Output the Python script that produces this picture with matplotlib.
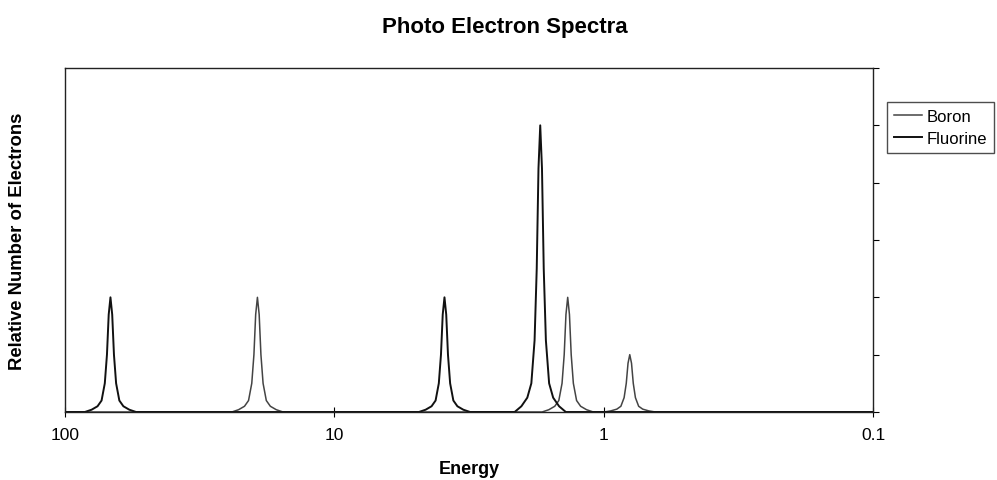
import numpy as np
import matplotlib.pyplot as plt

plt.rcParams['font.family'] = ['Liberation Sans', 'DejaVu Sans']

# peak positions (energy) and heights (relative number of electrons)
boron_energy = [19.3, 1.36, 0.80]
boron_count = [2, 2, 1]
fluorine_energy = [67.8, 3.90, 1.72]
fluorine_count = [2, 2, 5]

# peak shape: offset in decades, fraction of peak height
shape_offset = [-0.095, -0.070, -0.048, -0.033, -0.021, -0.013, -0.0065, 0.0,
                0.0065, 0.013, 0.021, 0.033, 0.048, 0.070, 0.095]
shape_frac = [0.0, 0.02, 0.05, 0.10, 0.25, 0.50, 0.85, 1.0,
              0.85, 0.50, 0.25, 0.10, 0.05, 0.02, 0.0]


def spectrum(energies, counts):
    xs, ys = [100.0], [0.0]
    for e, c in sorted(zip(energies, counts), reverse=True):
        for off, fr in zip(shape_offset, shape_frac):
            xs.append(e * 10 ** (-off))
            ys.append(c * fr)
    xs.append(0.1)
    ys.append(0.0)
    return xs, ys


fig = plt.figure(figsize=(9.97, 4.81), dpi=100)
ax = fig.add_axes([65 / 997, 1 - 413 / 481, 808 / 997, 344 / 481])

bx, by = spectrum(boron_energy, boron_count)
fx, fy = spectrum(fluorine_energy, fluorine_count)
ax.plot(bx, by, color='#444444', lw=1.1, label='Boron')
ax.plot(fx, fy, color='#111111', lw=1.4, label='Fluorine')

ax.set_xscale('log')
ax.set_xlim(100, 0.1)
ax.set_ylim(0, 6)
ax.set_xticks([100, 10, 1, 0.1])
ax.set_xticklabels(['100', '10', '1', '0.1'])
ax.xaxis.set_minor_locator(plt.NullLocator())
ax.tick_params(axis='x', direction='inout', length=7, labelsize=12.5, pad=7)

ax.set_yticks(np.arange(0, 7, 1))
ax.yaxis.tick_right()
ax.tick_params(axis='y', direction='out', length=4, labelright=False)

for s in ax.spines.values():
    s.set_color('#222222')
    s.set_linewidth(1.0)

ax.set_xlabel('Energy', fontsize=13, fontweight='bold', labelpad=13)
fig.text(18 / 997, 1 - 241 / 481, 'Relative Number of Electrons', rotation=90,
         ha='center', va='center', fontsize=13.3, fontweight='bold')
fig.text(505 / 997, 1 - 27 / 481, 'Photo Electron Spectra', ha='center',
         va='center', fontsize=16, fontweight='bold')

leg = ax.legend(loc='upper left', bbox_to_anchor=(887 / 997, 1 - 103 / 481),
                bbox_transform=fig.transFigure, frameon=True, fancybox=False,
                edgecolor='#222222', fontsize=12, handlelength=1.7,
                handletextpad=0.3, borderpad=0.4, labelspacing=0.45,
                borderaxespad=0)
leg.get_frame().set_linewidth(1.0)

fig.savefig('out.png', dpi=100)
